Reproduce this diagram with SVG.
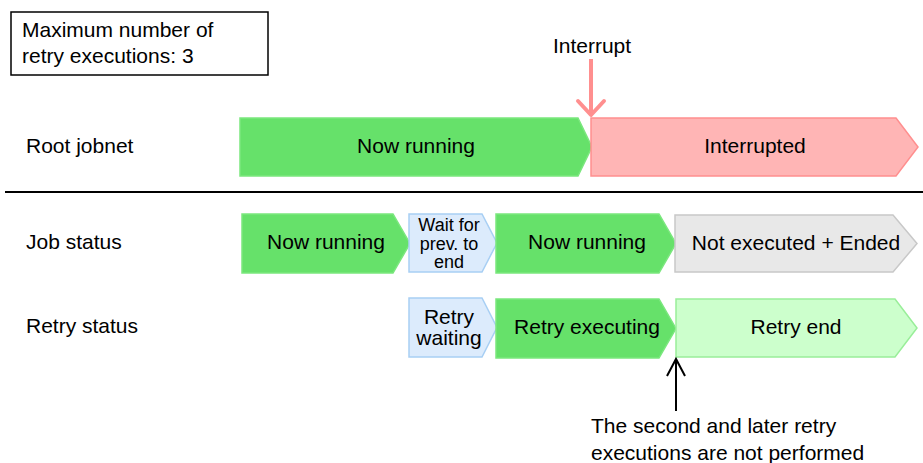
<svg xmlns="http://www.w3.org/2000/svg" width="923" height="463" viewBox="0 0 923 463">
<style>
text{font-family:"Liberation Sans",Arial,sans-serif;font-size:21px;fill:#000}
.c{text-anchor:middle}
.s{font-size:18px}
.run{fill:#66e16a;stroke:#7be77e;stroke-width:1.5}
.intr{fill:#ffb5b5;stroke:#ff8f8f;stroke-width:1.5}
.wait{fill:#dcebfc;stroke:#a8cff4;stroke-width:1.5}
.gray{fill:#e8e8e8;stroke:#c8c8c8;stroke-width:1.5}
.rend{fill:#ccffcc;stroke:#99ee99;stroke-width:1.5}
</style>
<g id="note">
<rect x="11" y="12" width="257" height="63" fill="#fff" stroke="#000" stroke-width="1.5"/>
<text x="22" y="37">Maximum number of</text>
<text x="22" y="63">retry executions: 3</text>
</g>
<g id="labels">
<text x="26" y="153">Root jobnet</text>
<text x="26" y="249">Job status</text>
<text x="26" y="333">Retry status</text>
</g>
<line x1="5" y1="192" x2="923" y2="192" stroke="#000" stroke-width="2"/>
<g id="root-running">
<polygon class="run" points="240,118 578,118 592,147 578,176 240,176"/>
<text class="c" x="416" y="153">Now running</text>
</g>
<g id="root-interrupted">
<polygon class="intr" points="591,118 896,118 918,147 896,176 591,176"/>
<text class="c" x="755" y="153">Interrupted</text>
</g>
<g id="job-running1">
<polygon class="run" points="242,214 393,214 410,243.5 393,273 242,273"/>
<text class="c" x="326" y="249">Now running</text>
</g>
<g id="job-wait">
<polygon class="wait" points="409,214 482,214 497,243 482,272 409,272"/>
<text class="c s" x="449" y="231">Wait for</text>
<text class="c s" x="449" y="249.5">prev. to</text>
<text class="c s" x="449" y="268">end</text>
</g>
<g id="job-running2">
<polygon class="run" points="496,214 659,214 676,243.5 659,273 496,273"/>
<text class="c" x="587" y="249">Now running</text>
</g>
<g id="job-notexec">
<polygon class="gray" points="675,215 893,215 917,243.5 893,272 675,272"/>
<text class="c" x="796" y="250">Not executed + Ended</text>
</g>
<g id="retry-waiting">
<polygon class="wait" points="409,298 482,298 497,327.5 482,357 409,357"/>
<text class="c" x="449" y="324">Retry</text>
<text class="c" x="449" y="345">waiting</text>
</g>
<g id="retry-executing">
<polygon class="run" points="496,299 659,299 676,328.5 659,358 496,358"/>
<text class="c" x="587" y="334">Retry executing</text>
</g>
<g id="retry-end">
<polygon class="rend" points="676,299 895,299 917,328 895,357 676,357"/>
<text class="c" x="796" y="334">Retry end</text>
</g>
<g id="connectors">
<line x1="591" y1="59" x2="591" y2="115" stroke="#ff8f8f" stroke-width="4"/>
<polyline points="578,101 591,115 604,101" fill="none" stroke="#ff8f8f" stroke-width="4" stroke-linecap="round" stroke-linejoin="round"/>
<line x1="676" y1="411" x2="676" y2="359" stroke="#000" stroke-width="2"/>
<polyline points="667,376 676,359 685,376" fill="none" stroke="#000" stroke-width="2"/>
</g>
<g id="texts">
<text class="c" x="592" y="53">Interrupt</text>
<text x="591" y="433">The second and later retry</text>
<text x="591" y="460">executions are not performed</text>
</g>
</svg>
